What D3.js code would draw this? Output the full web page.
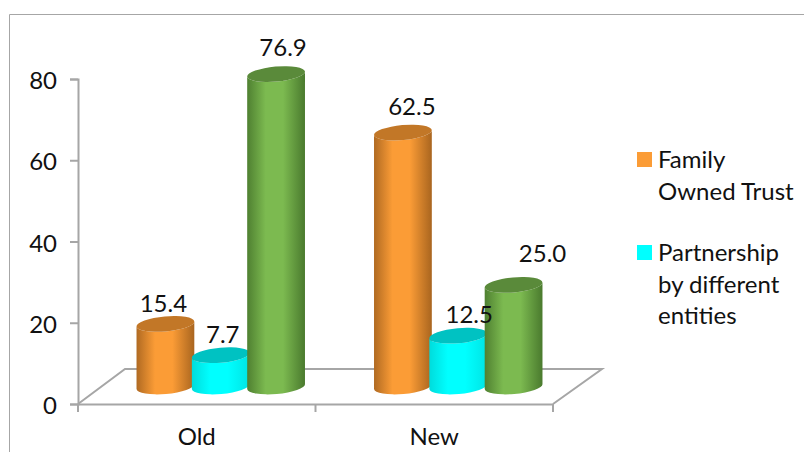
<!DOCTYPE html>
<html>
<head>
<meta charset="utf-8">
<script src="https://cdn.jsdelivr.net/npm/d3@7"></script>
<style>
  html, body { margin: 0; padding: 0; background: #fff; overflow: hidden; }
  text { font-family: Lato, "Open Sans", sans-serif; fill: #111; }
</style>
</head>
<body>
<svg id="chart" width="804" height="452"></svg>
<script>
// Ownership share by institution age
const categories = ["Old", "New"];
const seriesNames = ["Family Owned Trust", "Partnership by different entities", "Other"];
const familyValues = [15.4, 62.5];
const partnershipValues = [7.7, 12.5];
const otherValues = [76.9, 25.0];
const yTicks = [0, 20, 40, 60, 80];
const legendLines = [["Family", "Owned Trust"], ["Partnership", "by different", "entities"]];

// Hand placement of the value labels relative to each cylinder top
const labelNudgeX = [[-2, 2, 7], [9, 11, 29]];
const labelNudgeY = [[-12, -12, -18], [-18, -13, -23]];

const palette = [
  { edgeL: "#b06a22", mid: "#fb9c36", edgeR: "#a9651f", top: "#c27727" },
  { edgeL: "#00dcdc", mid: "#00ffff", edgeR: "#00e4e4", top: "#00c2c2" },
  { edgeL: "#4f8031", mid: "#7cba50", edgeR: "#4a7a2e", top: "#5a8a3a" }
];

const svg = d3.select("#chart");
const values = [familyValues, partnershipValues, otherValues];

const floorLeft = 78, floorRight = 553, floorY = 404;
const depthX = 47, depthY = 35;
const labelSize = 24;

const x = d3.scaleBand().domain(categories).range([floorLeft, floorRight]);
const y = d3.scaleLinear().domain([0, 80]).range([floorY, 79]);
const seriesX = d3.scaleBand().domain(d3.range(3)).range([-83, 83]);

// Outer chart frame
svg.append("path")
  .attr("d", "M9.5,452V14.5H804")
  .attr("fill", "none").attr("stroke", "#a6a6a6").attr("stroke-width", 1);

const axisColor = "#a6a6a6";

// Floor of the 3D plot
svg.append("path")
  .attr("d", d3.line()([
    [floorLeft, floorY], [floorLeft + depthX, floorY - depthY],
    [floorRight + depthX + 2, floorY - depthY], [floorRight, floorY]
  ]))
  .attr("fill", "none").attr("stroke", axisColor).attr("stroke-width", 2);

// Axes
const yAxis = svg.append("g").attr("transform", `translate(${floorLeft},0)`)
  .call(d3.axisLeft(y).tickValues(yTicks).tickSize(8).tickPadding(13));
const xAxis = svg.append("g").attr("transform", `translate(0,${floorY})`)
  .call(d3.axisBottom(x).tickSize(0).tickPadding(24));
[yAxis, xAxis].forEach(g => {
  g.selectAll(".domain,.tick line").attr("stroke", axisColor).attr("stroke-width", 2);
  g.selectAll("text").attr("font-size", labelSize).attr("font-family", "Lato").attr("fill", "#111");
});
yAxis.selectAll("text").attr("dy", "0.4em");
const xTickPositions = [floorLeft, x("New"), floorRight];
svg.selectAll(".xtick").data(xTickPositions).join("line")
  .attr("x1", d => d).attr("x2", d => d)
  .attr("y1", floorY).attr("y2", floorY + 8)
  .attr("stroke", axisColor).attr("stroke-width", 2);

// Horizontal shading for the cylinder walls
const defs = svg.append("defs");
palette.forEach((c, i) => {
  const g = defs.append("linearGradient").attr("id", `wall${i}`);
  [[0, c.edgeL], [0.32, c.mid], [0.62, c.mid], [1, c.edgeR]].forEach(([o, col]) =>
    g.append("stop").attr("offset", o).attr("stop-color", col));
});

const rx = 29, ry = 7.5, tilt = -5;
const dxTilt = rx * Math.cos(tilt * Math.PI / 180);
const dyTilt = rx * Math.sin(tilt * Math.PI / 180);
const baseY = floorY - depthY / 2;
const heightOf = v => floorY - y(v);

const bars = [];
categories.forEach((cat, ci) => {
  values.forEach((vals, si) => {
    const cx = x(cat) + x.bandwidth() / 2 + depthX / 2 + 0.5 + seriesX(si) + seriesX.bandwidth() / 2;
    bars.push({ ci, si, cx, topY: baseY - heightOf(vals[ci]), value: vals[ci] });
  });
});

const bar = svg.selectAll(".bar").data(bars).join("g").attr("class", "bar");

bar.append("path")
  .attr("fill", d => `url(#wall${d.si})`)
  .attr("d", d => {
    const lx = d.cx - dxTilt, rxx = d.cx + dxTilt;
    return `M${lx},${d.topY - dyTilt}L${lx},${baseY - dyTilt}` +
      `A${rx},${ry} ${tilt} 0 0 ${rxx},${baseY + dyTilt}` +
      `L${rxx},${d.topY + dyTilt}` +
      `A${rx},${ry} ${tilt} 0 1 ${lx},${d.topY - dyTilt}Z`;
  });

bar.append("ellipse")
  .attr("cx", d => d.cx).attr("cy", d => d.topY)
  .attr("rx", rx).attr("ry", ry)
  .attr("transform", d => `rotate(${tilt} ${d.cx} ${d.topY})`)
  .attr("fill", d => palette[d.si].top);

// Value labels
svg.selectAll(".value").data(bars).join("text")
  .attr("class", "value")
  .attr("x", d => d.cx + labelNudgeX[d.ci][d.si])
  .attr("y", d => d.topY + labelNudgeY[d.ci][d.si])
  .attr("text-anchor", "middle")
  .attr("font-size", labelSize)
  .text(d => d.value.toFixed(1));

// Legend
const legendRows = [{ swatchY: 152, baseline: 168 }, { swatchY: 245, baseline: 261 }];
const lineStep = 31.5;
legendLines.forEach((lines, i) => {
  const row = legendRows[i];
  svg.append("rect")
    .attr("x", 637).attr("y", row.swatchY).attr("width", 15).attr("height", 15)
    .attr("fill", palette[i].mid);
  const t = svg.append("text").attr("font-size", labelSize);
  lines.forEach((line, j) => {
    t.append("tspan").attr("x", 658).attr("y", row.baseline + j * lineStep).text(line);
  });
});
</script>
</body>
</html>
